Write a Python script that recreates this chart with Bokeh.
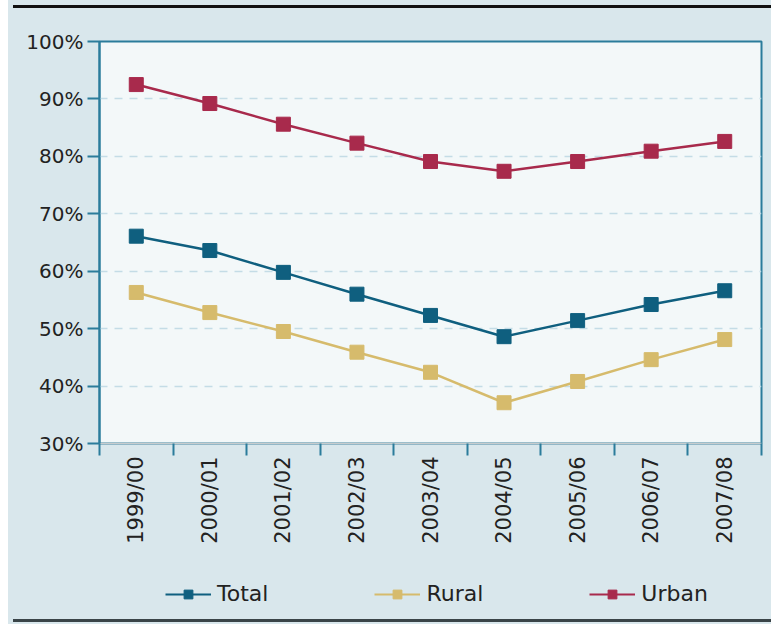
import math
from bokeh.plotting import figure
from bokeh.models import FixedTicker, Legend, LegendItem, Div, Range1d
from bokeh.layouts import column
from bokeh.embed import file_html
from bokeh.resources import INLINE

years = ["1999/00", "2000/01", "2001/02", "2002/03", "2003/04",
         "2004/05", "2005/06", "2006/07", "2007/08"]
total = [66.1, 63.6, 59.8, 56.0, 52.3, 48.6, 51.4, 54.2, 56.6]
rural = [56.3, 52.8, 49.5, 45.9, 42.4, 37.1, 40.8, 44.6, 48.1]
urban = [92.5, 89.2, 85.6, 82.3, 79.1, 77.4, 79.1, 80.9, 82.6]
y_ticks = [30, 40, 50, 60, 70, 80, 90, 100]
grid_ticks = [40, 50, 60, 70, 80, 90]

series = [("Total", total, "#0f5f7f"),
          ("Rural", rural, "#d6bb6c"),
          ("Urban", urban, "#a82a4c")]

FONT = "DejaVu Sans"
TEAL = "#2b7c9b"
PANEL = "#d9e7ec"

W = 763
p = figure(width=W, height=560, output_backend="svg", toolbar_location=None,
           x_range=Range1d(0, len(years)), y_range=Range1d(30, 100),
           min_border_left=91, min_border_right=10, min_border_top=28,
           min_border_bottom=130)
p.background_fill_color = "#f3f8f9"
p.border_fill_color = PANEL
p.outline_line_color = TEAL
p.outline_line_width = 2

xc = [i + 0.5 for i in range(len(years))]

for name, vals, col in series:
    p.line(xc, vals, line_color=col, line_width=2.5)
    p.scatter(xc, vals, marker="square", size=14, fill_color=col, line_color=col)

# x axis
xa = p.xaxis[0]
xa.ticker = FixedTicker(ticks=xc, minor_ticks=list(range(len(years) + 1)))
xa.major_label_overrides = {x: y for x, y in zip(xc, years)}
xa.major_label_orientation = math.pi / 2
xa.major_tick_line_color = None
xa.major_tick_in = 0
xa.major_tick_out = 0
xa.minor_tick_line_color = TEAL
xa.minor_tick_line_width = 2
xa.minor_tick_in = 0
xa.minor_tick_out = 12
xa.axis_line_color = "#c6ccce"
xa.axis_line_width = 1.5
xa.major_label_standoff = 1
xa.major_label_text_font = FONT
xa.major_label_text_font_size = "21px"
xa.major_label_text_color = "#222222"

# y axis
ya = p.yaxis[0]
ya.ticker = FixedTicker(ticks=y_ticks, minor_ticks=[])
ya.major_label_overrides = {v: f"{v}%" for v in y_ticks}
ya.major_tick_line_color = TEAL
ya.major_tick_line_width = 2
ya.major_tick_in = 0
ya.major_tick_out = 12
ya.axis_line_color = TEAL
ya.axis_line_width = 2
ya.major_label_standoff = 4
ya.major_label_text_font = FONT
ya.major_label_text_font_size = "20px"
ya.major_label_text_color = "#222222"

p.xgrid.visible = False
p.ygrid.ticker = FixedTicker(ticks=grid_ticks)
p.ygrid.grid_line_color = "#c4dce6"
p.ygrid.grid_line_dash = "8 7"
p.ygrid.grid_line_width = 1.5

# legend strip (its renderers hold the series but lie outside its view)
lg = figure(width=W, height=41, output_backend="svg", toolbar_location=None,
            x_axis_type=None, y_axis_type=None,
            x_range=Range1d(100, 101), y_range=Range1d(200, 201),
            min_border_left=91, min_border_right=10, min_border_top=0,
            min_border_bottom=0)
lg.grid.visible = False
lg.outline_line_color = None
lg.background_fill_alpha = 0
lg.border_fill_color = PANEL
items = []
for name, vals, col in series:
    l = lg.line(xc, vals, line_color=col, line_width=2)
    s = lg.scatter(xc, vals, marker="square", size=12, fill_color=col, line_color=col)
    items.append(LegendItem(label=name, renderers=[l, s]))
legend = Legend(items=items, orientation="horizontal", location=(66, 8),
                label_text_font=FONT, label_text_font_size="22px",
                label_text_color="#222222", glyph_width=46, glyph_height=22,
                spacing=106, label_standoff=6, padding=0, margin=0,
                background_fill_alpha=0, border_line_color=None)
lg.add_layout(legend)

top = Div(width=W, height=3, styles={"background-color": "#111111"})
bottom = Div(width=W, height=3, styles={"background-color": "#3a4448"})

layout = column(top, p, lg, bottom, spacing=0, margin=(0, 0, 0, 8),
                styles={"background-color": PANEL})
open("out.html", "w").write(file_html(layout, INLINE))
